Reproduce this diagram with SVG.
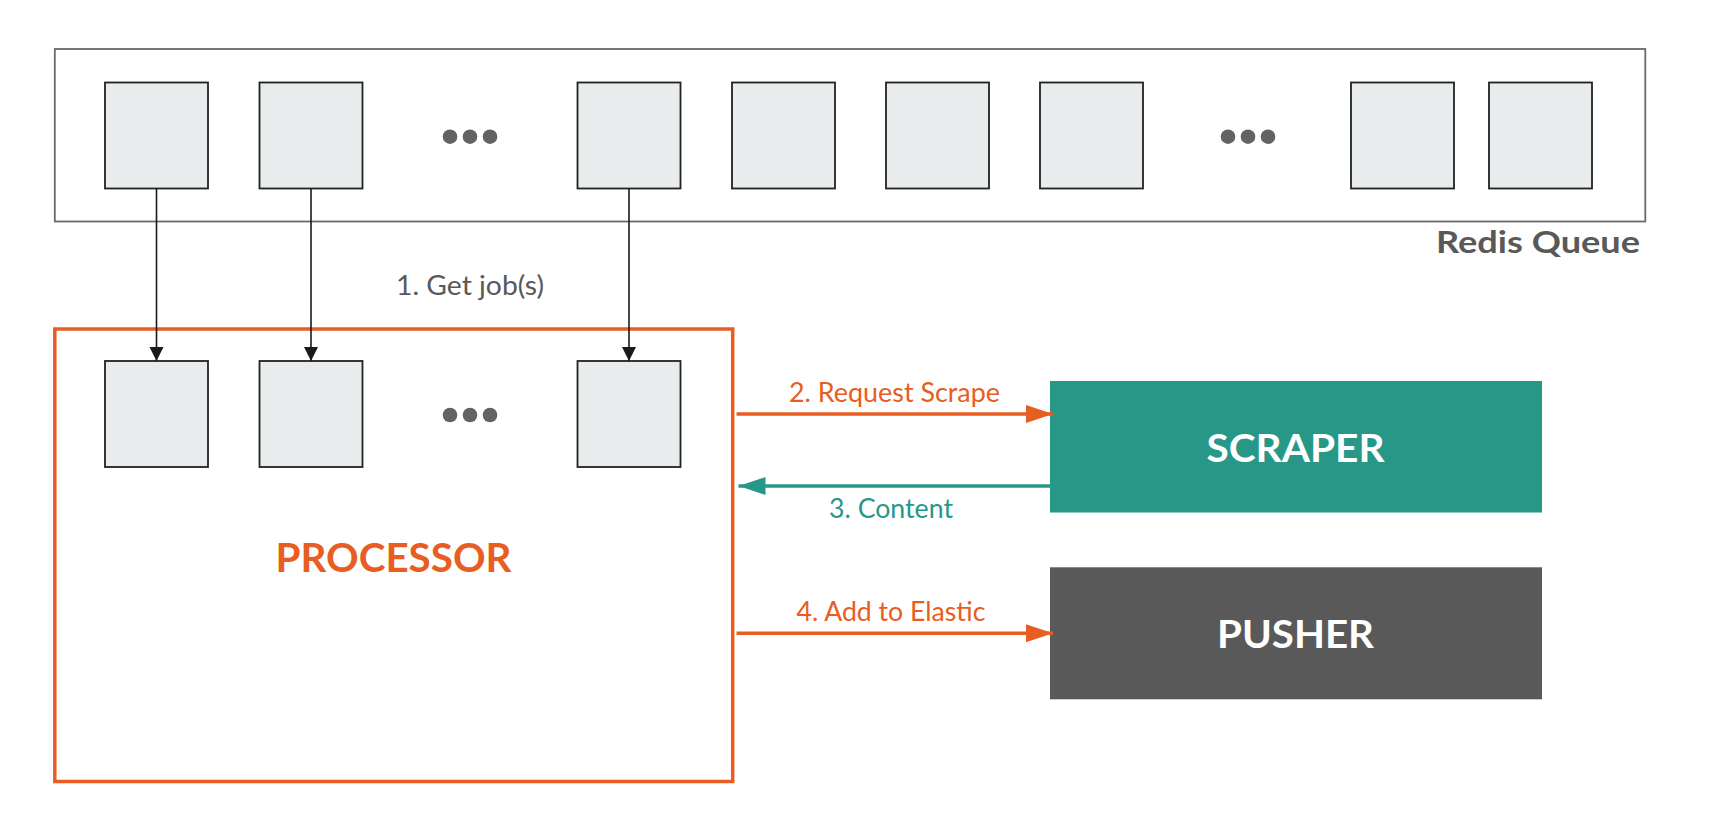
<svg xmlns="http://www.w3.org/2000/svg" width="1717" height="836" viewBox="0 0 1717 836">
<style>
.sq{fill:#e8ecec;stroke:#222;stroke-width:1.8}
.dot{fill:#636363}
.lbl{font-family:Lato,"Liberation Sans",sans-serif;font-size:26px}
.big{font-family:Lato,"Liberation Sans",sans-serif;font-weight:700;text-anchor:middle}
.blk{stroke:#1a1a1a;stroke-width:1.6;fill:none}
.org{stroke:#e85d22;stroke-width:3.5;fill:none}
.tel{stroke:#279788;stroke-width:3.5;fill:none}
</style>
<defs>
<marker id="ab" markerUnits="userSpaceOnUse" markerWidth="16" markerHeight="20" refX="14" refY="10" orient="auto"><path d="M0,3 L14,10 L0,17 Z" fill="#1a1a1a"/></marker>
<marker id="ao" markerUnits="userSpaceOnUse" markerWidth="28" markerHeight="22" refX="27" refY="11" orient="auto"><path d="M0,2 L27,11 L0,20 Z" fill="#e85d22"/></marker>
<marker id="at" markerUnits="userSpaceOnUse" markerWidth="28" markerHeight="22" refX="27" refY="11" orient="auto"><path d="M0,2 L27,11 L0,20 Z" fill="#279788"/></marker>
</defs>
<rect width="1717" height="836" fill="#fff"/>
<g id="redis-queue">
<rect x="54.8" y="49" width="1590.5" height="172.5" fill="#fff" stroke="#6a6a6a" stroke-width="1.8"/>
<rect class="sq" x="105" y="82.5" width="103" height="106"/>
<rect class="sq" x="259.5" y="82.5" width="103" height="106"/>
<rect class="sq" x="577.5" y="82.5" width="103" height="106"/>
<rect class="sq" x="732" y="82.5" width="103" height="106"/>
<rect class="sq" x="886" y="82.5" width="103" height="106"/>
<rect class="sq" x="1040" y="82.5" width="103" height="106"/>
<rect class="sq" x="1351" y="82.5" width="103" height="106"/>
<rect class="sq" x="1489" y="82.5" width="103" height="106"/>
<circle class="dot" cx="450" cy="136.7" r="7.3"/><circle class="dot" cx="470" cy="136.7" r="7.3"/><circle class="dot" cx="490" cy="136.7" r="7.3"/>
<circle class="dot" cx="1228" cy="136.7" r="7.3"/><circle class="dot" cx="1248" cy="136.7" r="7.3"/><circle class="dot" cx="1268" cy="136.7" r="7.3"/>
<text class="big" x="1640" y="253.3" font-size="30" fill="#595959" style="text-anchor:end" textLength="204" lengthAdjust="spacingAndGlyphs">Redis Queue</text>
</g>
<g id="processor">
<rect x="54.8" y="329" width="677.9" height="452.5" fill="#fff" stroke="#e85d22" stroke-width="3.5"/>
<rect class="sq" x="105" y="361" width="103" height="106"/>
<rect class="sq" x="259.5" y="361" width="103" height="106"/>
<rect class="sq" x="577.5" y="361" width="103" height="106"/>
<circle class="dot" cx="450" cy="415" r="7.3"/><circle class="dot" cx="470" cy="415" r="7.3"/><circle class="dot" cx="490" cy="415" r="7.3"/>
<text class="big" x="393.5" y="571.5" font-size="40" fill="#e85d22" textLength="236" lengthAdjust="spacingAndGlyphs">PROCESSOR</text>
</g>
<g id="scraper">
<rect x="1050" y="381" width="492" height="131.5" fill="#279788"/>
<text class="big" x="1295.5" y="461.7" font-size="38" fill="#fff" textLength="178" lengthAdjust="spacingAndGlyphs">SCRAPER</text>
</g>
<g id="pusher">
<rect x="1050" y="567.3" width="492" height="132" fill="#595959"/>
<text class="big" x="1295.5" y="648.3" font-size="38" fill="#fff" textLength="157" lengthAdjust="spacingAndGlyphs">PUSHER</text>
</g>
<g id="connectors">
<line class="blk" x1="156.5" y1="188.5" x2="156.5" y2="361" marker-end="url(#ab)"/>
<line class="blk" x1="311" y1="188.5" x2="311" y2="361" marker-end="url(#ab)"/>
<line class="blk" x1="629" y1="188.5" x2="629" y2="361" marker-end="url(#ab)"/>
<text class="lbl" x="396" y="295" fill="#595959" textLength="148" lengthAdjust="spacingAndGlyphs">1.  Get job(s)</text>
<line class="org" x1="736.5" y1="414" x2="1053" y2="414" marker-end="url(#ao)"/>
<text class="lbl" x="789" y="401.7" fill="#e85d22" textLength="211" lengthAdjust="spacingAndGlyphs">2. Request Scrape</text>
<line class="tel" x1="1050" y1="486" x2="738.5" y2="486" marker-end="url(#at)"/>
<text class="lbl" x="829" y="518.3" fill="#279788" textLength="124" lengthAdjust="spacingAndGlyphs">3. Content</text>
<line class="org" x1="736.5" y1="633.3" x2="1053" y2="633.3" marker-end="url(#ao)"/>
<text class="lbl" x="796.5" y="621" fill="#e85d22" textLength="189" lengthAdjust="spacingAndGlyphs">4. Add to Elastic</text>
</g>
</svg>
